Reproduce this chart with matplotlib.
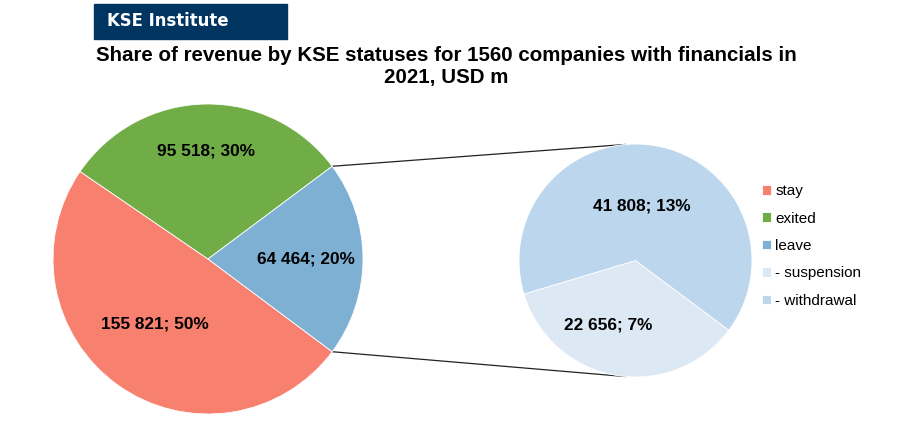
import numpy as np
import matplotlib
matplotlib.use("Agg")
import matplotlib.pyplot as plt
from matplotlib.patches import Rectangle

plt.rcParams['font.family'] = ['Liberation Sans', 'DejaVu Sans']

# data
main_labels = ["stay", "exited", "leave"]
main_values = [155821, 95518, 64464]
main_pct = ["50%", "30%", "20%"]
sub_labels = ["- suspension", "- withdrawal"]
sub_values = [22656, 41808]
sub_pct = ["7%", "13%"]

main_colors = ["#F8806F", "#70AD47", "#7EB0D4"]
sub_colors = ["#DDE8F5", "#BCD6EE"]

W, H = 903, 421
fig = plt.figure(figsize=(W / 100, H / 100), dpi=100)
ax = fig.add_axes([0, 0, 1, 1])


def reset_axes():
    ax.set_xlim(0, W)
    ax.set_ylim(0, H)
    ax.set_aspect('equal')
    ax.axis('off')


reset_axes()

# header box
ax.add_patch(Rectangle((94, H - 39), 193, 35, color="#003561", zorder=1))
ax.text(107, H - 21.5, "KSE Institute", color="white", fontsize=11.9,
        fontweight='bold', family='DejaVu Sans', va='center', ha='left')

ax.text(446, H - 66.5, "Share of revenue by KSE statuses for 1560 companies with financials in\n2021, USD m",
        ha='center', va='center', fontsize=14.8, fontweight='bold', linespacing=1.22)

total = sum(main_values)

# left pie
c1, r1 = (208, H - 259), 155
leave_ang = main_values[2] / total * 360
w1, _ = ax.pie(main_values, colors=main_colors, center=c1, radius=r1,
               startangle=-leave_ang / 2, counterclock=False,
               wedgeprops=dict(edgecolor='white', linewidth=0.6), frame=True)
reset_axes()

lbl_dist1 = [0.54, 0.70, 0.63]
lbl_shift1 = [-4, 0, 0]
for w, v, p, d, s in zip(w1, main_values, main_pct, lbl_dist1, lbl_shift1):
    th = np.deg2rad((w.theta1 + w.theta2) / 2 + s)
    ax.text(c1[0] + r1 * d * np.cos(th), c1[1] + r1 * d * np.sin(th),
            f"{v:,}".replace(",", " ") + "; " + p,
            ha='center', va='center', fontsize=12.4, fontweight='bold')

# right pie
c2, r2 = (635.5, H - 260.5), 116.5
sub_total = sum(sub_values)
sus_ang = sub_values[0] / sub_total * 360
w2, _ = ax.pie(sub_values, colors=sub_colors, center=c2, radius=r2,
               startangle=-100 - sus_ang / 2, counterclock=True,
               wedgeprops=dict(edgecolor='white', linewidth=0.6), frame=True)
reset_axes()

lbl_dist2 = [0.60, 0.47]
lbl_shift2 = [-13, 3]
for w, v, p, d, s in zip(w2, sub_values, sub_pct, lbl_dist2, lbl_shift2):
    th = np.deg2rad((w.theta1 + w.theta2) / 2 + s)
    ax.text(c2[0] + r2 * d * np.cos(th), c2[1] + r2 * d * np.sin(th),
            f"{v:,}".replace(",", " ") + "; " + p,
            ha='center', va='center', fontsize=12.4, fontweight='bold')

# connector lines
lw = w1[2]
for a1, a2 in [(lw.theta2, 95), (lw.theta1, 265)]:
    t1, t2 = np.deg2rad(a1), np.deg2rad(a2)
    ax.plot([c1[0] + r1 * np.cos(t1), c2[0] + r2 * np.cos(t2)],
            [c1[1] + r1 * np.sin(t1), c2[1] + r2 * np.sin(t2)],
            color="#222222", lw=0.9, zorder=0)

handles = list(w1) + list(w2)
fig.legend(handles, main_labels + sub_labels, loc='upper left',
           bbox_to_anchor=(754 / W, 1 - 176.5 / H), frameon=False,
           fontsize=11, handlelength=0.6, handleheight=0.6,
           handletextpad=0.3, labelspacing=0.88, borderpad=0)

fig.savefig("out.png", dpi=100)
